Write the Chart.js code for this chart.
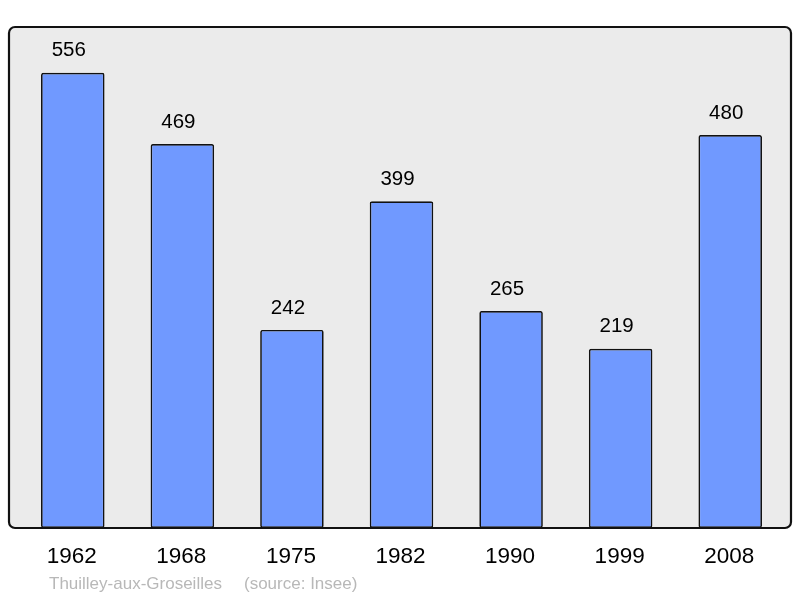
<!DOCTYPE html>
<html>
<head>
<meta charset="utf-8">
<script src="https://cdn.jsdelivr.net/npm/chart.js@4"></script>
<style>
  html, body { margin: 0; padding: 0; background: #fff; }
  #wrap { width: 800px; height: 598px; }
</style>
</head>
<body>
<div id="wrap"><canvas id="myChart" width="800" height="598"></canvas></div>
<script>
// population by census year
var years = ["1962", "1968", "1975", "1982", "1990", "1999", "2008"];
var population = [556, 469, 242, 399, 265, 219, 480];
var footerName = "Thuilley-aux-Groseilles";
var footerSource = "(source: Insee)";

// grey box behind the bars, plus all the text
var boxPlugin = {
    id: 'box',
    beforeDraw: function(chart) {
        var c = chart.ctx;
        c.save();
        c.beginPath();
        c.roundRect(9, 27, 782, 501, 6);
        c.fillStyle = '#ebebeb';
        c.fill();
        c.lineWidth = 2.2;
        c.strokeStyle = '#111';
        c.stroke();
        c.restore();
    },
    afterDatasetsDraw: function(chart) {
        var c = chart.ctx;
        var x = chart.scales.x;
        var meta = chart.getDatasetMeta(0);
        c.save();
        c.textAlign = 'center';
        c.textBaseline = 'middle';
        c.fillStyle = '#000';
        // values above bars
        c.font = '20.5px "Liberation Sans", Arial, sans-serif';
        meta.data.forEach(function(bar, i) {
            c.fillText(population[i], bar.x - 4, bar.y - 22);
        });
        // year labels
        c.font = '22.5px "Liberation Sans", Arial, sans-serif';
        years.forEach(function(y, i) {
            c.fillText(y, x.getPixelForValue(i) - 1, 557);
        });
        // footer
        c.textAlign = 'left';
        c.fillStyle = '#b8b8b8';
        c.font = '17px "Liberation Sans", Arial, sans-serif';
        c.fillText(footerName, 49, 584);
        c.fillText(footerSource, 244, 584);
        c.restore();
    }
};

const ctx = document.getElementById('myChart');

new Chart(ctx, {
    type: 'bar',
    data: {
        labels: years,
        datasets: [{
            data: population,
            backgroundColor: '#7099ff',
            borderColor: '#111',
            borderWidth: 1.7,
            borderRadius: 2,
            borderSkipped: false,
            barPercentage: 0.58,
            categoryPercentage: 1
        }]
    },
    options: {
        responsive: false,
        animation: false,
        layout: { padding: { left: 18, right: 15, top: 27, bottom: 70 } },
        plugins: { legend: { display: false }, tooltip: { enabled: false } },
        scales: {
            x: { display: false },
            y: { display: false, min: 0, max: 612 }
        }
    },
    plugins: [boxPlugin]
});
</script>
</body>
</html>
